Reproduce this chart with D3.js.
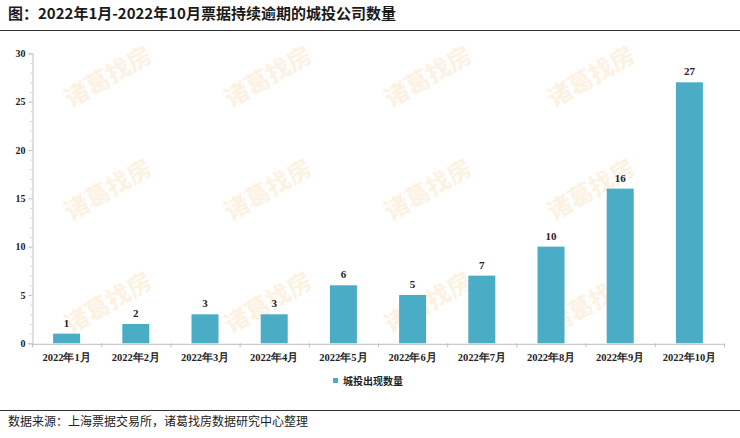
<!DOCTYPE html>
<html><head><meta charset="utf-8">
<script src="https://cdn.jsdelivr.net/npm/d3@7"></script>
<style>body{margin:0;background:#fff}svg{display:block}</style>
</head><body>
<script>
const title = "图：2022年1月-2022年10月票据持续逾期的城投公司数量";
const categories = ["2022年1月","2022年2月","2022年3月","2022年4月","2022年5月","2022年6月","2022年7月","2022年8月","2022年9月","2022年10月"];
const values = [1,2,3,3,6,5,7,10,16,27];
const seriesName = "城投出现数量";
const yTicks = [0,5,10,15,20,25,30];
const source = "数据来源：上海票据交易所，诸葛找房数据研究中心整理";
const watermark = "诸葛找房";

const W = 740, H = 438;
const svg = d3.select("body").append("svg").attr("width", W).attr("height", H);
const serif = "'Liberation Serif','DejaVu Serif',serif";
const cjk = "'Noto Sans CJK SC',sans-serif";

// watermarks
const wmX = [107, 267, 427, 590];
const wmY = [75, 188, 301];
wmY.forEach((wy, r) => wmX.forEach(wx => {
  svg.append("text").attr("transform", `translate(${wx},${wy}) rotate(-30)`)
    .attr("text-anchor", "middle").attr("dominant-baseline", "central")
    .style("font-family", cjk).style("font-weight", "bold").style("font-size", "24px")
    .style("fill", "#fdf1e2").text(watermark);
}));

// title
svg.append("text").attr("x", 8).attr("y", 19).style("font-family", cjk)
  .style("font-weight", "bold").style("font-size", "15px").style("fill", "#1a1a1a").text(title);
svg.append("line").attr("x1", 0).attr("x2", W).attr("y1", 30.5).attr("y2", 30.5)
  .attr("stroke", "#333").attr("stroke-width", 1);

const x = d3.scaleBand().domain(categories).range([32, 724]).paddingInner(0).paddingOuter(0);
const y = d3.scaleLinear().domain([0, 30]).range([343.3, 53.3]);
const barW = 27;

// y axis
const yAxis = svg.append("g").attr("transform", "translate(32.5,0)")
  .call(d3.axisLeft(y).tickValues(yTicks).tickSize(4).tickPadding(3));
yAxis.select(".domain").attr("stroke", "#bfbfbf");
yAxis.selectAll(".tick line").attr("stroke", "#bfbfbf");
yAxis.selectAll("text").style("font-family", serif).style("font-weight", "bold")
  .style("font-size", "10px").style("fill", "#222");
svg.append("g").attr("transform", "translate(32.5,0)")
  .call(d3.axisLeft(y).tickValues(d3.range(0, 31, 1)).tickSize(2).tickFormat(""))
  .call(g => { g.select(".domain").remove(); g.selectAll("line").attr("stroke", "#d0d0d0"); });

// bars
svg.selectAll("rect.bar").data(values).join("rect").attr("class", "bar")
  .attr("x", (d, i) => x(categories[i]) + x.bandwidth() / 2 - barW / 2)
  .attr("width", barW)
  .attr("y", d => y(d)).attr("height", d => y(0) - y(d))
  .attr("fill", "#4bacc6");

svg.selectAll("text.val").data(values).join("text").attr("class", "val")
  .attr("x", (d, i) => x(categories[i]) + x.bandwidth() / 2)
  .attr("y", d => y(d) - 7).attr("text-anchor", "middle")
  .style("font-family", serif).style("font-weight", "bold").style("font-size", "11px")
  .style("fill", "#222").text(d => d);

// x axis
const xAxis = svg.append("g").attr("transform", `translate(0,${y(0) + 0.5})`)
  .call(d3.axisBottom(x).tickSize(0).tickPadding(10));
xAxis.select(".domain").attr("stroke", "#bfbfbf");
xAxis.selectAll("text").style("font-family", serif).style("font-weight", "bold")
  .style("font-size", "10.5px").style("fill", "#222");
svg.append("g").selectAll("line").data(categories.concat([null])).join("line")
  .attr("x1", (d, i) => 32.5 + i * x.bandwidth()).attr("x2", (d, i) => 32.5 + i * x.bandwidth())
  .attr("y1", y(0)).attr("y2", y(0) + 4).attr("stroke", "#bfbfbf");

// legend
svg.append("rect").attr("x", 333).attr("y", 378).attr("width", 5).attr("height", 5).attr("fill", "#4bacc6");
svg.append("text").attr("x", 343).attr("y", 384.5).style("font-family", cjk)
  .style("font-weight", "bold").style("font-size", "10px").style("fill", "#222").text(seriesName);

// footer
svg.append("line").attr("x1", 0).attr("x2", W).attr("y1", 410.5).attr("y2", 410.5)
  .attr("stroke", "#333").attr("stroke-width", 1);
svg.append("text").attr("x", 8).attr("y", 426).style("font-family", cjk)
  .style("font-size", "12px").style("fill", "#222").text(source);
</script>
</body></html>
